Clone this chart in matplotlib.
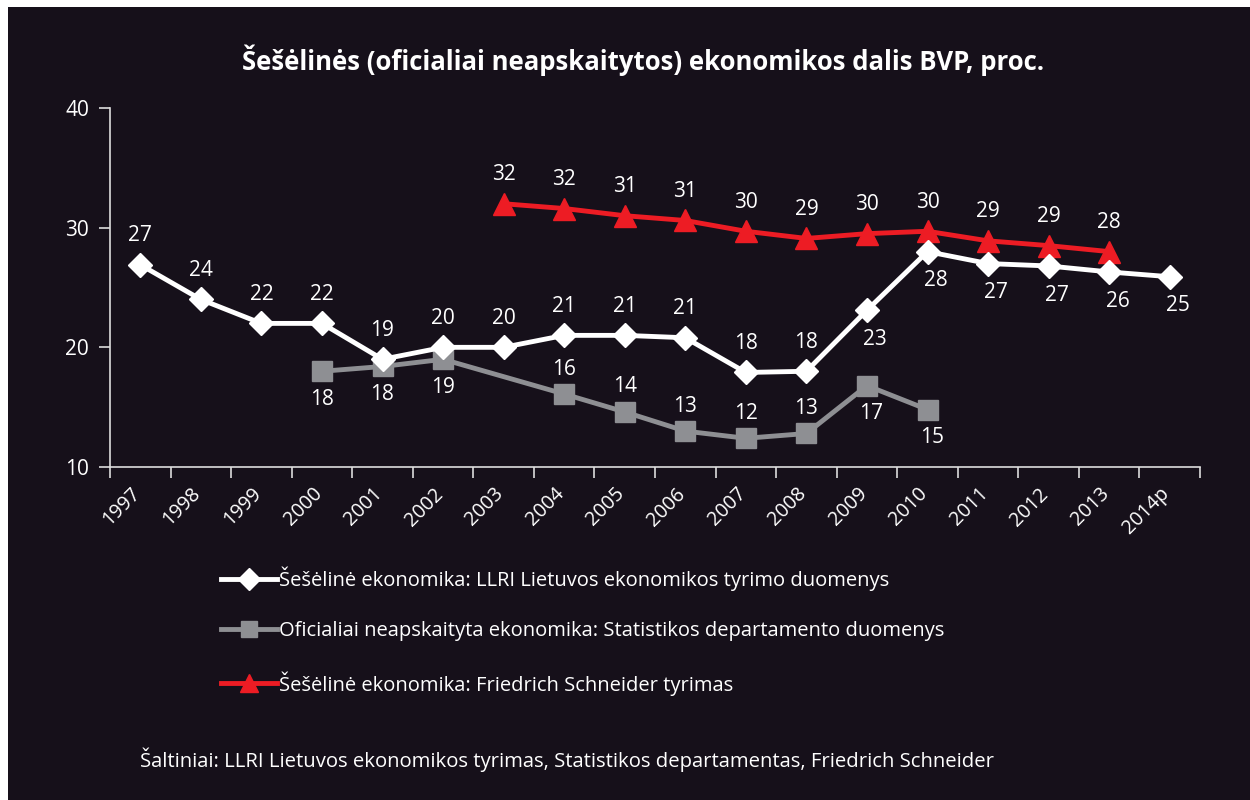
import matplotlib
matplotlib.use("Agg")
import matplotlib.pyplot as plt
from matplotlib.patches import Rectangle
from matplotlib.lines import Line2D
from matplotlib.transforms import ScaledTranslation

plt.rcParams['font.family'] = ['Open Sans', 'DejaVu Sans']

years = ['1997', '1998', '1999', '2000', '2001', '2002', '2003', '2004', '2005',
         '2006', '2007', '2008', '2009', '2010', '2011', '2012', '2013', '2014p']

# LLRI shadow economy estimate
llri = [26.9, 24.0, 22.0, 22.0, 19.0, 20.0, 20.0, 21.0, 21.0,
        20.8, 17.9, 18.0, 23.1, 28.0, 27.0, 26.8, 26.3, 25.9]
llri_lbl = ['27', '24', '22', '22', '19', '20', '20', '21', '21',
            '21', '18', '18', '23', '28', '27', '27', '26', '25']

# Statistics department, unrecorded economy
stat = [None, None, None, 18.0, 18.4, 19.0, None, 16.1, 14.6,
        13.0, 12.4, 12.8, 16.8, 14.8, None, None, None, None]
stat_lbl = [None, None, None, '18', '18', '19', None, '16', '14',
            '13', '12', '13', '17', '15', None, None, None, None]

# Friedrich Schneider
schn = [None, None, None, None, None, None, 32.0, 31.6, 31.0,
        30.6, 29.7, 29.1, 29.5, 29.7, 28.9, 28.5, 28.0, None]
schn_lbl = [None, None, None, None, None, None, '32', '32', '31',
            '31', '30', '29', '30', '30', '29', '29', '28', None]

bg = '#16101a'
red = '#ed1c24'
gray = '#8e8f93'
fg = '#ffffff'

fig = plt.figure(figsize=(12.5, 8), dpi=100, facecolor='white')
fig.patches.append(Rectangle((8 / 1250, 0), 1, 793 / 800, transform=fig.transFigure,
                             facecolor=bg, edgecolor='none', zorder=-10))
ax = fig.add_axes([110 / 1250, 333 / 800, 1090 / 1250, 359 / 800])
ax.set_facecolor(bg)

def series(vals):
    xs = [i for i, v in enumerate(vals) if v is not None]
    return xs, [vals[i] for i in xs]

x, y = series(stat)
ax.plot(x, y, color=gray, lw=3.5, marker='s', ms=14, zorder=2)
x, y = series(schn)
ax.plot(x, y, color=red, lw=3.5, marker='^', ms=16, zorder=3)
ax.plot(range(len(years)), llri, color=fg, lw=3.5, marker='D', ms=12, zorder=4)

lab = dict(color=fg, fontsize=15, ha='center', va='center', textcoords='offset points')
for i, t in enumerate(llri_lbl):
    if i < 12:
        ax.annotate(t, (i, llri[i]), xytext=(0, 21), **lab)
    else:
        ax.annotate(t, (i, llri[i]), xytext=(6, -21), **lab)
for i, t in enumerate(stat_lbl):
    if t is None:
        continue
    if i < 6 or i > 11:
        ax.annotate(t, (i, stat[i]), xytext=(3 if i > 11 else 0, -20), **lab)
    else:
        ax.annotate(t, (i, stat[i]), xytext=(0, 18), **lab)
for i, t in enumerate(schn_lbl):
    if t is not None:
        ax.annotate(t, (i, schn[i]), xytext=(0, 21), **lab)

ax.set_xlim(-0.5, len(years) - 0.5)
ax.set_ylim(10, 40)
ax.set_yticks([10, 20, 30, 40])
ax.set_xticks(range(len(years)))
ax.set_xticklabels(years, rotation=45, ha='right', va='top', rotation_mode='anchor')
ax.set_xticks([i - 0.5 for i in range(len(years) + 1)], minor=True)
ax.tick_params(axis='x', which='major', length=0, pad=12.2, labelsize=14.2, labelcolor=fg)
ax.tick_params(axis='x', which='minor', length=8, width=1.2, color='#dddddd', direction='out')
ax.tick_params(axis='y', length=8, width=1.2, color='#dddddd', pad=7, labelsize=15, labelcolor=fg)
shift = ScaledTranslation(-0.1, 0, fig.dpi_scale_trans)
for lbl in ax.get_xticklabels():
    lbl.set_transform(lbl.get_transform() + shift)
for s in ['top', 'right']:
    ax.spines[s].set_visible(False)
for s in ['left', 'bottom']:
    ax.spines[s].set_color('#dddddd')
    ax.spines[s].set_linewidth(1.2)

fig.text(643 / 1250, 1 - 60 / 800, 'Šešėlinės (oficialiai neapskaitytos) ekonomikos dalis BVP, proc.',
         color=fg, fontsize=18.5, fontweight='bold', ha='center', va='center')

handles = [
    Line2D([], [], color=fg, lw=3.5, marker='D', ms=11),
    Line2D([], [], color=gray, lw=3.5, marker='s', ms=12),
    Line2D([], [], color=red, lw=3.5, marker='^', ms=13),
]
names = [
    'Šešėlinė ekonomika: LLRI Lietuvos ekonomikos tyrimo duomenys',
    'Oficialiai neapskaityta ekonomika: Statistikos departamento duomenys',
    'Šešėlinė ekonomika: Friedrich Schneider tyrimas',
]
leg = fig.legend(handles, names, loc='upper left', bbox_to_anchor=(203 / 1250, 1 - 548 / 800),
                 frameon=False, fontsize=14.5, labelcolor=fg, handlelength=2.75,
                 handletextpad=0.1, labelspacing=1.5)

fig.text(140 / 1250, 1 - 760 / 800,
         'Šaltiniai: LLRI Lietuvos ekonomikos tyrimas, Statistikos departamentas, Friedrich Schneider',
         color=fg, fontsize=14.6, ha='left', va='center')

fig.savefig('out.png', dpi=100, facecolor=fig.get_facecolor())
